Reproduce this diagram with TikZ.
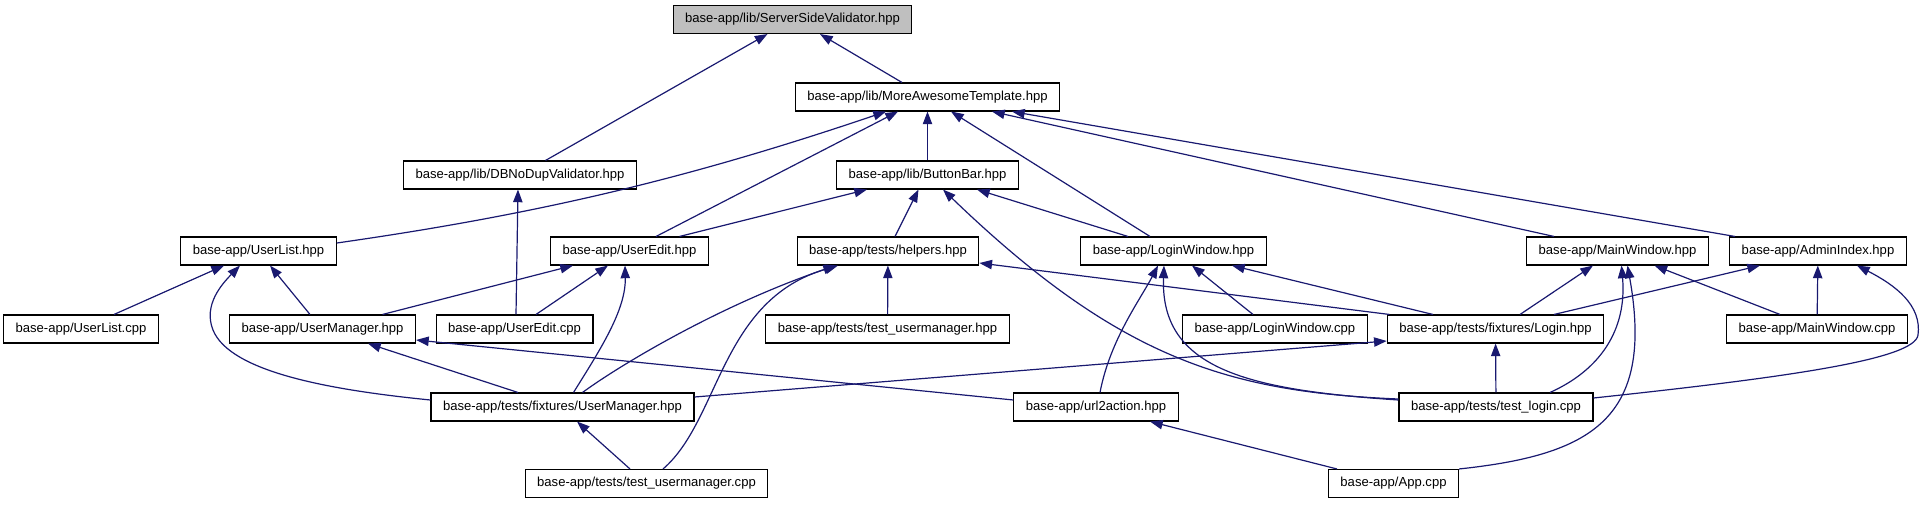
\documentclass[tikz,border=0pt]{standalone}
\usepackage{fontspec}
\setmainfont{Liberation Sans}
\usetikzlibrary{arrows.meta}
\definecolor{depblue}{HTML}{191970}
\definecolor{focusgray}{HTML}{BFBFBF}

\begin{document}
\begin{tikzpicture}[
    x=0.75pt, y=-0.75pt,
    >={Triangle[length=9.5pt, width=7pt]},
    file/.style={draw=black, line width=0.8pt, fill=white, minimum height=21pt, inner xsep=9pt, inner ysep=0pt, font=\fontsize{9.8}{11}\selectfont},
    focus/.style={file, fill=focusgray},
    dep/.style={->, draw=depblue, line width=0.9pt}
]
\useasboundingbox (0,0) rectangle (1931,504);

% ================= Nodes =================

% Top: the header itself and its direct includers
\node[focus] (ssv) at (792.5,19.5) {base-app/lib/ServerSideValidator.hpp};
\node[file] (mat) at (927.5,97) {base-app/lib/MoreAwesomeTemplate.hpp};
\node[file] (dbn) at (520,175) {base-app/lib/DBNoDupValidator.hpp};
\node[file] (bbar) at (927.5,175) {base-app/lib/ButtonBar.hpp};

% Headers
\node[file] (ulh) at (258.5,251) {base-app/UserList.hpp};
\node[file] (ueh) at (629.5,251) {base-app/UserEdit.hpp};
\node[file] (hlp) at (888,251) {base-app/tests/helpers.hpp};
\node[file] (lwh) at (1173.5,251) {base-app/LoginWindow.hpp};
\node[file] (mwh) at (1617.5,251) {base-app/MainWindow.hpp};
\node[file] (aih) at (1818,251) {base-app/AdminIndex.hpp};

% Next level
\node[file] (ulc) at (81,329) {base-app/UserList.cpp};
\node[file] (umh) at (322.5,329) {base-app/UserManager.hpp};
\node[file] (uec) at (514.5,329) {base-app/UserEdit.cpp};
\node[file] (tumh) at (887.5,329) {base-app/tests/test\_usermanager.hpp};
\node[file] (lwc) at (1275,329) {base-app/LoginWindow.cpp};
\node[file] (flh) at (1495.5,329) {base-app/tests/fixtures/Login.hpp};
\node[file] (mwc) at (1817,329) {base-app/MainWindow.cpp};

\node[file] (fumh) at (562.5,407) {base-app/tests/fixtures/UserManager.hpp};
\node[file] (u2a) at (1096,407) {base-app/url2action.hpp};
\node[file] (tlc) at (1496,407) {base-app/tests/test\_login.cpp};

% Bottom
\node[file] (tumc) at (646.5,483.5) {base-app/tests/test\_usermanager.cpp};
\node[file] (app) at (1393.5,483.5) {base-app/App.cpp};

% ================= Edges =================

% Into ServerSideValidator
\draw[dep] ([shift={(25.5,0)}]dbn.north) -- ([shift={(-25,0)}]ssv.south);
\draw[dep] ([shift={(-25.5,0)}]mat.north) -- ([shift={(27.5,0)}]ssv.south);

% Into MoreAwesomeTemplate
\draw[dep] ([shift={(0,-8)}]ulh.east) .. controls (540,214) and (690,178) .. ([shift={(-41.5,0)}]mat.south);
\draw[dep] ([shift={(26.5,0)}]ueh.north) -- ([shift={(-29.5,0)}]mat.south);
\draw[dep] (bbar) -- (mat);
\draw[dep] ([shift={(-23.5,0)}]lwh.north) -- ([shift={(23.5,0)}]mat.south);
\draw[dep] ([shift={(-63.5,0)}]mwh.north) -- ([shift={(64.5,0)}]mat.south);
\draw[dep] ([shift={(-83,0)}]aih.north) -- ([shift={(84.5,0)}]mat.south);

% Into DBNoDupValidator and ButtonBar
\draw[dep] ([shift={(1.5,0)}]uec.north) -- ([shift={(-2,0)}]dbn.south);
\draw[dep] ([shift={(50,0)}]ueh.north) -- ([shift={(-60.5,0)}]bbar.south);
\draw[dep] ([shift={(7,0)}]hlp.north) -- ([shift={(-9,0)}]bbar.south);
\draw[dep] ([shift={(0,-8)}]tlc.west) .. controls (1230,392) and (1120,360) .. ([shift={(15.5,0)}]bbar.south);
\draw[dep] ([shift={(-45.5,0)}]lwh.north) -- ([shift={(49.5,0)}]bbar.south);

% Into UserList.hpp
\draw[dep] ([shift={(33,0)}]ulc.north) -- ([shift={(-34.5,0)}]ulh.south);
\draw[dep] ([shift={(-12.5,0)}]umh.north) -- ([shift={(11.5,0)}]ulh.south);
\draw[dep] ([shift={(0,-7)}]fumh.west) .. controls (330,390) and (230,372) .. (213,330)
    .. controls (203,305) and (222,284) .. ([shift={(-18.5,0)}]ulh.south);

% Into UserEdit.hpp
\draw[dep] ([shift={(60,0)}]umh.north) -- ([shift={(-56.5,0)}]ueh.south);
\draw[dep] ([shift={(21.5,0)}]uec.north) -- ([shift={(-21.5,0)}]ueh.south);
\draw[dep] ([shift={(11,0)}]fumh.north) .. controls (600,350) and (626,310) .. ([shift={(-4.5,0)}]ueh.south);

% Into UserManager.hpp
\draw[dep] ([shift={(-44.5,0)}]fumh.north) -- ([shift={(45.5,0)}]umh.south);
\draw[dep] ([shift={(0,-7)}]u2a.west) -- ([shift={(0,11)}]umh.east);

% Into helpers.hpp
\draw[dep] ([shift={(20,0)}]fumh.north) .. controls (620,365) and (720,305) .. ([shift={(-52,0)}]hlp.south);
\draw[dep] ([shift={(16.5,0)}]tumc.north) .. controls (720,420) and (720,300) .. ([shift={(-50,0)}]hlp.south);
\draw[dep] ([shift={(-106,0)}]flh.north) -- ([shift={(0,12)}]hlp.east);
\draw[dep] (tumh) -- (hlp);

% Into LoginWindow.hpp
\draw[dep] ([shift={(4,0)}]u2a.north) .. controls (1110,340) and (1140,300) .. ([shift={(-15.5,0)}]lwh.south);
\draw[dep] ([shift={(0,-7)}]tlc.west) .. controls (1250,390) and (1160,370) .. ([shift={(-9.5,0)}]lwh.south);
\draw[dep] ([shift={(-22,0)}]lwc.north) -- ([shift={(18.5,0)}]lwh.south);
\draw[dep] ([shift={(-62.5,0)}]flh.north) -- ([shift={(58.5,0)}]lwh.south);

% Into MainWindow.hpp
\draw[dep] ([shift={(24.5,0)}]flh.north) -- ([shift={(-24.5,0)}]mwh.south);
\draw[dep] ([shift={(54,0)}]tlc.north) .. controls (1600,370) and (1627,330) .. ([shift={(4,0)}]mwh.south);
\draw[dep] (app.north east) .. controls (1590,455) and (1655,420) .. ([shift={(10,0)}]mwh.south);
\draw[dep] ([shift={(-37,0)}]mwc.north) -- ([shift={(37,0)}]mwh.south);

% Into AdminIndex.hpp
\draw[dep] ([shift={(58.5,0)}]flh.north) -- ([shift={(-58,0)}]aih.south);
\draw[dep] (mwc) -- (aih);
\draw[dep] ([shift={(0,-9)}]tlc.east) .. controls (1780,378) and (1915,360) .. (1918,335)
    .. controls (1922,305) and (1895,285) .. ([shift={(39,0)}]aih.south);

% Lower level
\draw[dep] ([shift={(0,-10)}]fumh.east) -- ([shift={(0,12)}]flh.west);
\draw[dep] ([shift={(-16.5,0)}]tumc.north) -- ([shift={(14.5,0)}]fumh.south);
\draw[dep] ([shift={(-56.5,0)}]app.north) -- ([shift={(54,0)}]u2a.south);
\draw[dep] (tlc) -- (flh);

\end{tikzpicture}
\end{document}
